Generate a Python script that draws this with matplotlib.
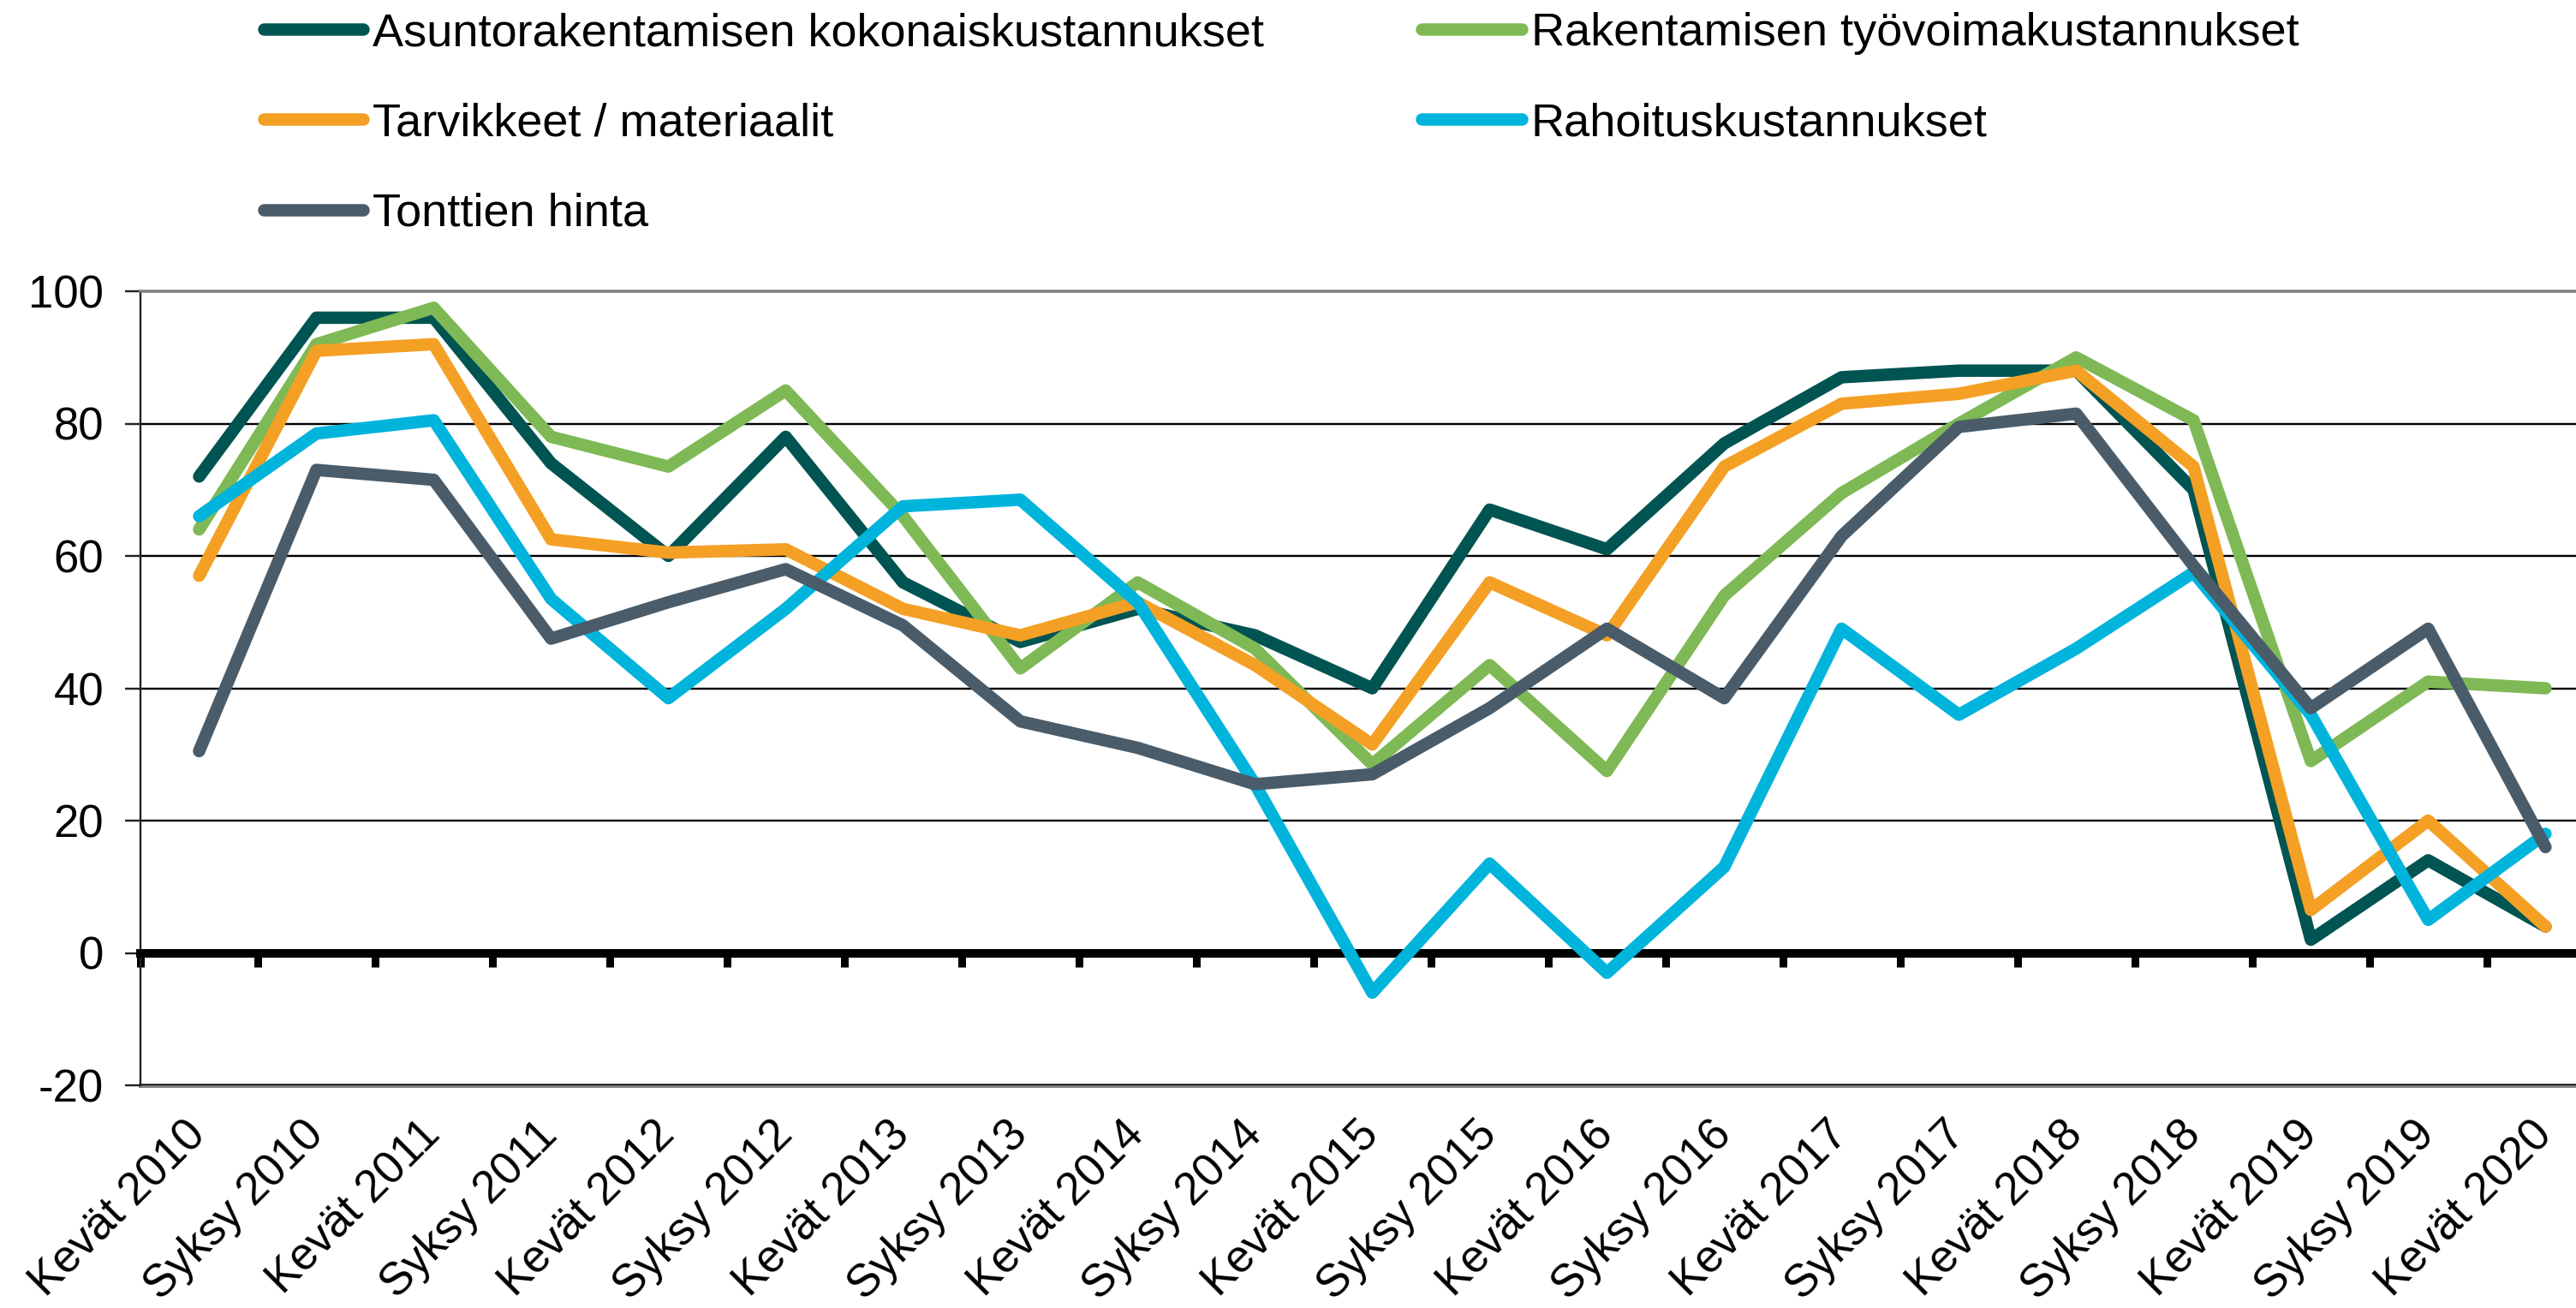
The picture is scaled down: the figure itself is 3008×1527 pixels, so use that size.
import matplotlib
matplotlib.use('Agg')
import matplotlib.pyplot as plt
import numpy as np

plt.rcParams['font.family'] = ['Liberation Sans', 'DejaVu Sans']
plt.rcParams['axes.unicode_minus'] = False

categories = ['Kevät 2010', 'Syksy 2010', 'Kevät 2011', 'Syksy 2011', 'Kevät 2012',
              'Syksy 2012', 'Kevät 2013', 'Syksy 2013', 'Kevät 2014', 'Syksy 2014',
              'Kevät 2015', 'Syksy 2015', 'Kevät 2016', 'Syksy 2016', 'Kevät 2017',
              'Syksy 2017', 'Kevät 2018', 'Syksy 2018', 'Kevät 2019', 'Syksy 2019',
              'Kevät 2020']

asuntorakentaminen = [72, 96, 96, 74, 60, 78, 56, 47, 52, 48, 40, 67, 61, 77, 87, 88, 88, 70, 2, 14, 4]
tyovoima = [64, 92, 97.5, 78, 73.5, 85, 66, 43, 56, 46, 28.5, 43.5, 27.5, 54, 69.5, 80, 90, 80.5, 29, 41, 40]
tarvikkeet = [57, 91, 92, 62.5, 60.5, 61, 52, 48, 53, 43.5, 31.5, 56, 48, 73.5, 83, 84.5, 88, 73.5, 6.5, 20, 4]
rahoitus = [66, 78.5, 80.5, 53.5, 38.5, 52, 67.5, 68.5, 53, 25.5, -6, 13.5, -3, 13, 49, 36, 46, 57.5, 36, 5, 18]
tontit = [30.5, 73, 71.5, 47.5, 53, 58, 49.5, 35, 31, 25.5, 27, 37, 49, 38.5, 63, 79.5, 81.5, 58.5, 37, 49, 16]

series_names = ['Asuntorakentamisen kokonaiskustannukset', 'Rakentamisen työvoimakustannukset',
                'Tarvikkeet / materiaalit', 'Rahoituskustannukset', 'Tonttien hinta']
series_values = [asuntorakentaminen, tyovoima, tarvikkeet, rahoitus, tontit]
series_colors = ['#005451', '#7EB955', '#F4A025', '#00B4DC', '#4A5C6A']

W, H = 3008, 1527
PX = 0.72  # points per pixel at dpi 100

fig = plt.figure(figsize=(W / 100, H / 100), dpi=100)
ax = fig.add_axes([164 / W, (H - 1267) / H, 1 - 164 / W, (1267 - 340) / H])

x = np.arange(len(categories))
handles = []
for name, vals, col in zip(series_names, series_values, series_colors):
    h, = ax.plot(x, vals, color=col, lw=14.5 * PX, label=name, zorder=3,
                 solid_joinstyle='round', solid_capstyle='round')
    handles.append(h)

ax.set_xlim(-0.5, 20.26)
ax.set_ylim(-20, 100)
ax.set_yticks(np.arange(-20, 101, 20))
ax.set_axisbelow(True)
ax.yaxis.grid(True, color='black', lw=2.4 * PX)

# spines
ax.spines['right'].set_visible(False)
ax.spines['top'].set_color('#808080')
ax.spines['top'].set_linewidth(3.5 * PX)
ax.spines['left'].set_color('#222222')
ax.spines['left'].set_linewidth(2.4 * PX)
ax.spines['bottom'].set_position(('data', 0))
ax.spines['bottom'].set_color('black')
ax.spines['bottom'].set_linewidth(10 * PX)
ax.spines['bottom'].set_zorder(2.6)

# category boundary ticks on zero line
ax.set_xticks(x)
ax.set_xticks(np.arange(len(categories)) - 0.5, minor=True)
ax.tick_params(axis='x', which='major', length=0, labelbottom=False)
ax.tick_params(axis='x', which='minor', direction='out', length=16 * PX,
               width=9 * PX, color='black')
ax.tick_params(axis='y', which='major', direction='out', length=18 * PX,
               width=2.4 * PX, color='#222222', labelsize=38, pad=18)

# category labels at bottom of plot
secax = ax.secondary_xaxis('bottom')
secax.set_xticks(x, categories, rotation=45, ha='right', va='center',
                 rotation_mode='anchor')
secax.tick_params(axis='x', length=0, labelsize=38, pad=36)
secax.spines['bottom'].set_color('#808080')
secax.spines['bottom'].set_linewidth(5 * PX)

order = [0, 2, 4, 1, 3]
fig.legend([handles[i] for i in order], [series_names[i] for i in order],
           ncol=2, loc='upper left', bbox_to_anchor=(308 / W, 1 - 14 / H),
           frameon=False, fontsize=39, handlelength=2.15, handletextpad=0.2,
           columnspacing=3.4, labelspacing=1.02, borderpad=0, borderaxespad=0)

fig.savefig('out.png', dpi=100)
